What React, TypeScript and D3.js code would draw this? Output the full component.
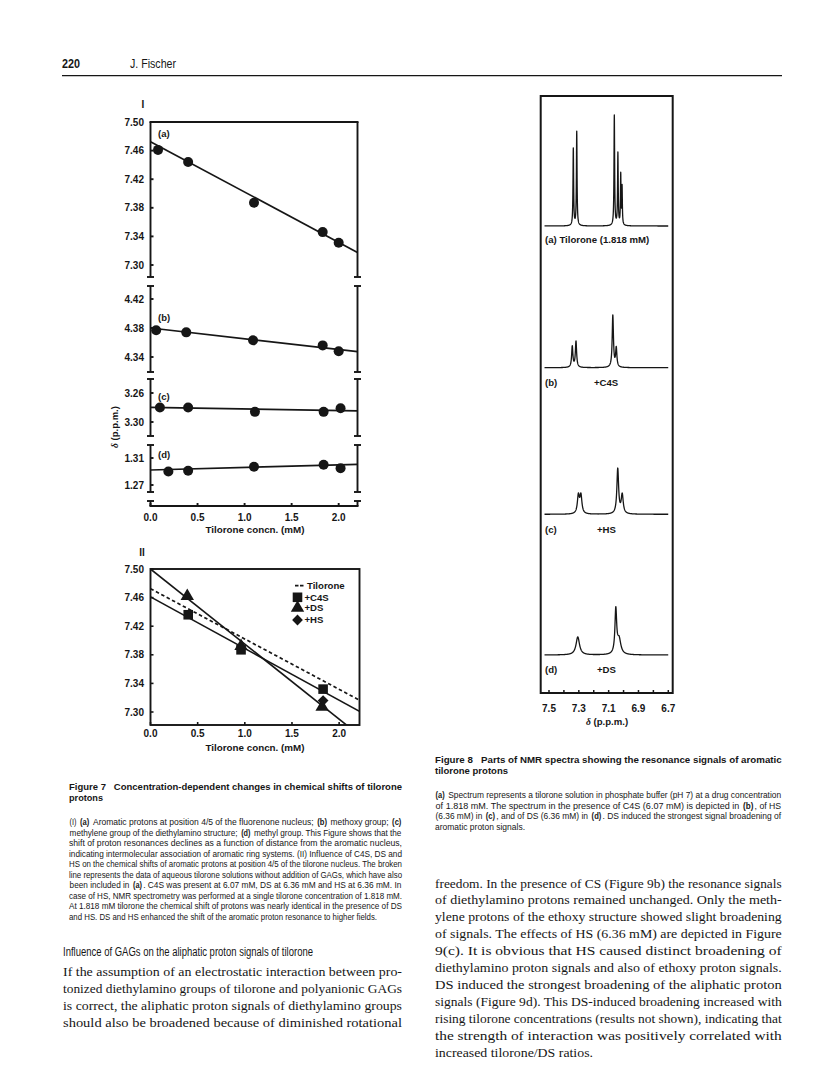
import React from "react";
import * as d3 from "d3";

const SANS = "Liberation Sans, Arial, sans-serif";
const SERIF = "Liberation Serif, Times New Roman, serif";
const INK = "#161616";

// Figure 7 (I): chemical shift (p.p.m.) vs tilorone concn. (mM)
const concA = [0.08, 0.4, 1.1, 1.83, 2.0];
const shiftA = [7.461, 7.444, 7.387, 7.346, 7.331];
const concB = [0.06, 0.38, 1.09, 1.83, 2.0];
const shiftB = [4.377, 4.374, 4.363, 4.356, 4.348];
const concC = [0.1, 0.4, 1.11, 1.84, 2.02];
const shiftC = [3.28, 3.28, 3.286, 3.286, 3.281];
const concD = [0.19, 0.4, 1.1, 1.84, 2.02];
const shiftD = [1.29, 1.291, 1.297, 1.3, 1.295];
// fitted lines: [intercept, slope]
const fitA = [7.4725, -0.0704];
const fitB = [4.38, -0.0148];
const fitC = [3.2797, 0.0023];
const fitD = [1.2922, 0.0038];
const ticksA = [7.5, 7.46, 7.42, 7.38, 7.34, 7.3];
const ticksB = [4.42, 4.38, 4.34];
const ticksC = [3.26, 3.3];
const ticksD = [1.31, 1.27];
const concTicks = [0, 0.5, 1.0, 1.5, 2.0];

// Figure 7 (II)
const c4sConc = [0.4, 0.96, 1.83];
const c4sShift = [7.436, 7.387, 7.332];
const dsConc = [0.39, 0.96, 1.82];
const dsShift = [7.462, 7.392, 7.307];
const hsConc = [1.83];
const hsShift = [7.316];
const tiloroneFit = [7.4725, -0.0704];
const c4sFit = [7.461, -0.0723];
const dsHsFit = [7.5, -0.105];
const legendLabels = ["Tilorone", "+C4S", "+DS", "+HS"];

// Figure 8: NMR peaks [ppm, intensity, half-width ppm]
const peaksA = [[7.337, 77, 0.0025], [7.314, 94, 0.0025], [7.062, 110, 0.0025], [7.038, 72, 0.0025], [7.019, 50, 0.0022], [7.01, 38, 0.0022]];
const peaksB = [[7.344, 21, 0.005], [7.319, 26, 0.005], [7.072, 52, 0.005], [7.049, 19, 0.005]];
const peaksC = [[7.303, 18, 0.008], [7.286, 18, 0.008], [7.039, 45, 0.007], [7.009, 19, 0.008]];
const peaksD = [[7.307, 18, 0.014], [7.052, 44, 0.007], [7.03, 15, 0.014]];
const ppmTicks = [7.5, 7.4, 7.3, 7.2, 7.1, 7.0, 6.9, 6.8, 6.7];
const ppmLabels = [7.5, 7.3, 7.1, 6.9, 6.7];
const specSpan = [7.53, 6.7];

// page text
const fig7Title = ["Figure 7\u00a0\u00a0\u00a0Concentration-dependent changes in chemical shifts of tilorone", "protons"];
const fig7Caption = [
  "(I) **(a)** Aromatic protons at position 4/5 of the fluorenone nucleus; **(b)** methoxy group; **(c)**",
  "methylene group of the diethylamino structure; **(d)** methyl group. This Figure shows that the",
  "shift of proton resonances declines as a function of distance from the aromatic nucleus,",
  "indicating intermolecular association of aromatic ring systems. (II) Influence of C4S, DS and",
  "HS on the chemical shifts of aromatic protons at position 4/5 of the tilorone nucleus. The broken",
  "line represents the data of aqueous tilorone solutions without addition of GAGs, which have also",
  "been included in **(a)**. C4S was present at 6.07 mM, DS at 6.36 mM and HS at 6.36 mM. In",
  "case of HS, NMR spectrometry was performed at a single tilorone concentration of 1.818 mM.",
  "At 1.818 mM tilorone the chemical shift of protons was nearly identical in the presence of DS",
  "and HS. DS and HS enhanced the shift of the aromatic proton resonance to higher fields.",
];
const heading = "Influence of GAGs on the aliphatic proton signals of tilorone";
const leftBody = [
  "If the assumption of an electrostatic interaction between pro-",
  "tonized diethylamino groups of tilorone and polyanionic GAGs",
  "is correct, the aliphatic proton signals of diethylamino groups",
  "should also be broadened because of diminished rotational",
];
const fig8Title = ["Figure 8\u00a0\u00a0\u00a0Parts of NMR spectra showing the resonance signals of aromatic", "tilorone protons"];
const fig8Caption = [
  "**(a)** Spectrum represents a tilorone solution in phosphate buffer (pH 7) at a drug concentration",
  "of 1.818 mM. The spectrum in the presence of C4S (6.07 mM) is depicted in **(b)**, of HS",
  "(6.36 mM) in **(c)**, and of DS (6.36 mM) in **(d)**. DS induced the strongest signal broadening of",
  "aromatic proton signals.",
];
const rightBody = [
  "freedom. In the presence of CS (Figure 9b) the resonance signals",
  "of diethylamino protons remained unchanged. Only the meth-",
  "ylene protons of the ethoxy structure showed slight broadening",
  "of signals. The effects of HS (6.36 mM) are depicted in Figure",
  "9(c). It is obvious that HS caused distinct broadening of",
  "diethylamino proton signals and also of ethoxy proton signals.",
  "DS induced the strongest broadening of the aliphatic proton",
  "signals (Figure 9d). This DS-induced broadening increased with",
  "rising tilorone concentrations (results not shown), indicating that",
  "the strength of interaction was positively correlated with",
  "increased tilorone/DS ratios.",
];

let measureCtx = null;
const measure = (s, font) => {
  if (!measureCtx) measureCtx = document.createElement("canvas").getContext("2d");
  measureCtx.font = font;
  return measureCtx.measureText(s).width;
};

// split "**x**" marked bold parts into separate segments
const segments = (s) =>
  s.split(/(\*\*[^*]+\*\*)/).filter(Boolean).map((p) =>
    p.startsWith("**") ? { t: p.slice(2, -2), bold: true } : { t: p, bold: false }
  );

// one justified line, each bold/normal run placed as its own <text>
const JLine = ({ text, x, y, width, size, family, weight }) => {
  const segs = segments(text).map((s) => {
    const font = `${s.bold ? "bold" : weight} ${size}px ${family}`;
    const lead = s.t.length - s.t.trimStart().length;
    const trail = s.t.length - s.t.trimEnd().length;
    return {
      ...s,
      trimmed: s.t.trim(),
      w: measure(s.t, font),
      lw: measure(" ".repeat(lead), font),
      tw: measure(" ".repeat(trail), font),
    };
  });
  const multi = segs.length > 1;
  const k = width / d3.sum(segs, (s) => s.w);
  let cx = x;
  return (
    <>
      {segs.map((s, i) => {
        const sx = cx + s.lw * k;
        const len = (s.w - s.lw - s.tw) * k;
        cx += s.w * k;
        const pad = multi ? 0.6 : 0;
        return (
          <text
            key={i}
            x={sx + pad}
            y={y}
            fontSize={s.bold && multi ? size * 0.96 : size}
            fontFamily={family}
            fontWeight={s.bold ? "bold" : weight}
            textLength={len - 2 * pad}
            lengthAdjust="spacingAndGlyphs"
          >
            {s.trimmed}
          </text>
        );
      })}
    </>
  );
};

const TextBlock = ({ lines, x, y0, step, width, lastWidth, size, family, weight = "normal" }) => (
  <g fill={INK}>
    {lines.map((ln, i) => (
      <JLine
        key={i}
        text={ln}
        x={x}
        y={y0 + i * step}
        width={i === lines.length - 1 ? lastWidth : width}
        size={size}
        family={family}
        weight={weight}
      />
    ))}
  </g>
);

const fmt2 = d3.format(".2f");
const fmt1 = d3.format(".1f");

const Cap = ({ x, y }) => <line x1={x - 3.5} x2={x + 3.5} y1={y} y2={y} />;

const PanelI = () => {
  const x = d3.scaleLinear().domain([0, 2.2]).range([150.5, 357.5]);
  const subs = [
    { tag: "(a)", conc: concA, shift: shiftA, fit: fitA, ticks: ticksA, ref: [7.5, 7.3], px: [122, 265], cap: [122, 277], tagY: 134, top: true },
    { tag: "(b)", conc: concB, shift: shiftB, fit: fitB, ticks: ticksB, ref: [4.42, 4.34], px: [299, 357], cap: [286, 372], tagY: 318 },
    { tag: "(c)", conc: concC, shift: shiftC, fit: fitC, ticks: ticksC, ref: [3.26, 3.3], px: [393, 422], cap: [379, 436], tagY: 397 },
    { tag: "(d)", conc: concD, shift: shiftD, fit: fitD, ticks: ticksD, ref: [1.31, 1.27], px: [458, 485], cap: [445, 492], tagY: 455 },
  ];
  const [x0, x1] = x.range();
  const axisY = 506;
  return (
    <g>
      <text x={143} y={108} fontFamily={SANS} fontWeight="bold" fontSize={10} textAnchor="middle" fill={INK}>I</text>
      {subs.map((s) => {
        const y = d3.scaleLinear().domain(s.ref).range(s.px);
        const line = d3.line().x((d) => x(d[0])).y((d) => y(d[1]));
        const fitPts = [[0, s.fit[0]], [2.2, s.fit[0] + 2.2 * s.fit[1]]];
        return (
          <g key={s.tag}>
            <g stroke={INK} strokeWidth={1.9} fill="none">
              <line x1={x0} x2={x0} y1={s.cap[0]} y2={s.cap[1]} />
              <line x1={x1} x2={x1} y1={s.cap[0]} y2={s.cap[1]} />
              {s.top ? <line x1={x0 - 1} x2={x1 + 1} y1={s.cap[0]} y2={s.cap[0]} /> : [<Cap key="l" x={x0} y={s.cap[0]} />, <Cap key="r" x={x1} y={s.cap[0]} />]}
              <Cap x={x0} y={s.cap[1]} />
              <Cap x={x1} y={s.cap[1]} />
              {s.ticks.map((t) => (
                <line key={t} x1={x0} x2={x0 + 3} y1={y(t)} y2={y(t)} />
              ))}
            </g>
            <path d={line(fitPts)} stroke={INK} strokeWidth={1.7} fill="none" />
            {s.conc.map((c, i) => (
              <circle key={i} cx={x(c)} cy={y(s.shift[i])} r={5} fill={INK} />
            ))}
            {s.ticks.map((t) => (
              <text key={t} x={144} y={y(t)} dy="0.35em" textAnchor="end" fontFamily={SANS} fontWeight="bold" fontSize={10} fill={INK}>{fmt2(t)}</text>
            ))}
            <text x={158} y={s.tagY} dy="0.35em" fontFamily={SANS} fontWeight="bold" fontSize={9.5} fill={INK}>{s.tag}</text>
          </g>
        );
      })}
      <g stroke={INK} strokeWidth={1.9} fill="none">
        <line x1={x0 - 1} x2={x1 + 1} y1={axisY} y2={axisY} />
        <line x1={x0} x2={x0} y1={axisY - 5} y2={axisY} />
        <line x1={x1} x2={x1} y1={axisY - 5} y2={axisY} />
        <Cap x={x0} y={axisY - 5} />
        <Cap x={x1} y={axisY - 5} />
        {concTicks.map((t) => (
          <line key={t} x1={x(t)} x2={x(t)} y1={axisY} y2={axisY - 3} />
        ))}
      </g>
      {concTicks.map((t) => (
        <text key={t} x={x(t)} y={517} dy="0.35em" textAnchor="middle" fontFamily={SANS} fontWeight="bold" fontSize={10} fill={INK}>{fmt1(t)}</text>
      ))}
      <text x={255} y={529.5} dy="0.35em" textAnchor="middle" fontFamily={SANS} fontWeight="bold" fontSize={9.8} fill={INK}>Tilorone concn. (mM)</text>
      <text transform="translate(115,427) rotate(-90)" textAnchor="middle" dy="0.35em" fontFamily={SANS} fontWeight="bold" fontSize={9.5} fill={INK}>
        <tspan fontFamily={SERIF} fontStyle="italic">δ</tspan> (p.p.m.)
      </text>
    </g>
  );
};

const PanelII = () => {
  const x = d3.scaleLinear().domain([0, 2.2]).range([150.5, 358]);
  const y = d3.scaleLinear().domain([7.5, 7.3]).range([569, 712]);
  const frame = { l: 150.5, r: 359.5, t: 569, b: 725 };
  const line = d3.line().x((d) => x(d[0])).y((d) => y(d[1]));
  const fitPath = (f) => line([[0, f[0]], [2.3, f[0] + 2.3 * f[1]]]);
  const sq = d3.symbol(d3.symbolSquare, 92)();
  const tri = d3.symbol(d3.symbolTriangle, 78)();
  const dia = d3.symbol(d3.symbolSquare, 58)();
  const legY = [585.7, 597.3, 608, 620];
  return (
    <g>
      <text x={142} y={556} textAnchor="middle" fontFamily={SANS} fontWeight="bold" fontSize={10} fill={INK}>II</text>
      <clipPath id="clipII">
        <rect x={frame.l} y={frame.t} width={frame.r - frame.l} height={frame.b - frame.t} />
      </clipPath>
      <g clipPath="url(#clipII)" fill="none" stroke={INK}>
        <path d={fitPath(tiloroneFit)} strokeWidth={1.7} strokeDasharray="3.5,2.6" />
        <path d={fitPath(c4sFit)} strokeWidth={1.6} />
        <path d={fitPath(dsHsFit)} strokeWidth={1.6} />
      </g>
      <rect x={frame.l} y={frame.t} width={frame.r - frame.l} height={frame.b - frame.t} fill="none" stroke={INK} strokeWidth={1.9} />
      <g stroke={INK} strokeWidth={1.6}>
        {ticksA.map((t) => (
          <line key={t} x1={frame.l} x2={frame.l + 3} y1={y(t)} y2={y(t)} />
        ))}
        {concTicks.map((t) => (
          <line key={t} x1={x(t)} x2={x(t)} y1={frame.b} y2={frame.b - 3} />
        ))}
      </g>
      {c4sConc.map((c, i) => (
        <path key={"s" + i} d={sq} transform={`translate(${x(c)},${y(c4sShift[i])})`} fill={INK} />
      ))}
      {dsConc.map((c, i) => (
        <path key={"t" + i} d={tri} transform={`translate(${x(c)},${y(dsShift[i])})`} fill={INK} />
      ))}
      {hsConc.map((c, i) => (
        <path key={"d" + i} d={dia} transform={`translate(${x(c)},${y(hsShift[i])}) rotate(45)`} fill={INK} />
      ))}
      {ticksA.map((t) => (
        <text key={t} x={144} y={y(t)} dy="0.35em" textAnchor="end" fontFamily={SANS} fontWeight="bold" fontSize={10} fill={INK}>{fmt2(t)}</text>
      ))}
      {concTicks.map((t) => (
        <text key={t} x={x(t)} y={733.5} dy="0.35em" textAnchor="middle" fontFamily={SANS} fontWeight="bold" fontSize={10} fill={INK}>{fmt1(t)}</text>
      ))}
      <text x={255} y={748} dy="0.35em" textAnchor="middle" fontFamily={SANS} fontWeight="bold" fontSize={9.8} fill={INK}>Tilorone concn. (mM)</text>
      {/* legend */}
      <line x1={295} x2={303.5} y1={legY[0]} y2={legY[0]} stroke={INK} strokeWidth={1.7} strokeDasharray="3.5,1.5" />
      <path d={sq} transform={`translate(297.5,${legY[1]})`} fill={INK} />
      <path d={tri} transform={`translate(297.5,${legY[2]})`} fill={INK} />
      <path d={dia} transform={`translate(297.5,${legY[3]}) rotate(45)`} fill={INK} />
      {legendLabels.map((l, i) => (
        <text key={l} x={i === 0 ? 307 : 304.5} y={legY[i]} dy="0.35em" fontFamily={SANS} fontWeight="bold" fontSize={9.6} fill={INK}>{l}</text>
      ))}
    </g>
  );
};

const lorentz = (peaks, d) => d3.sum(peaks, (p) => (p[1] * p[2] * p[2]) / ((d - p[0]) ** 2 + p[2] * p[2]));

const Figure8 = () => {
  const x = d3.scaleLinear().domain([7.5, 6.7]).range([549, 668.3]);
  const grid = d3.range(specSpan[0], specSpan[1], -0.0005);
  const spectra = [
    { peaks: peaksA, base: 226, tag: "(a) Tilorone (1.818 mM)", extra: "", labY: 240, exX: 0 },
    { peaks: peaksB, base: 367.7, tag: "(b)", extra: "+C4S", labY: 383, exX: 594 },
    { peaks: peaksC, base: 514.3, tag: "(c)", extra: "+HS", labY: 530, exX: 597 },
    { peaks: peaksD, base: 655, tag: "(d)", extra: "+DS", labY: 670, exX: 597 },
  ];
  const frame = { l: 540.7, r: 672.7, t: 96, b: 693 };
  return (
    <g>
      <rect x={frame.l} y={frame.t} width={frame.r - frame.l} height={frame.b - frame.t} fill="none" stroke={INK} strokeWidth={2} />
      {spectra.map((s, k) => {
        const y = d3.scaleLinear().domain([0, 100]).range([s.base, s.base - 100]);
        const line = d3.line().x((d) => x(d)).y((d) => y(lorentz(s.peaks, d)));
        return (
          <g key={k}>
            <path d={line(grid)} fill="none" stroke={INK} strokeWidth={1.3} strokeLinejoin="round" />
            <text x={545} y={s.labY} dy="0.35em" fontFamily={SANS} fontWeight="bold" fontSize={9.6} fill={INK}>{s.tag}</text>
            {s.extra && (
              <text x={s.exX} y={s.labY} dy="0.35em" fontFamily={SANS} fontWeight="bold" fontSize={9.6} fill={INK}>{s.extra}</text>
            )}
          </g>
        );
      })}
      <g stroke={INK} strokeWidth={1.5}>
        {ppmTicks.map((t) => (
          <line key={t} x1={x(t)} x2={x(t)} y1={frame.b} y2={frame.b - 3} />
        ))}
      </g>
      {ppmLabels.map((t) => (
        <text key={t} x={x(t)} y={708} dy="0.35em" textAnchor="middle" fontFamily={SANS} fontWeight="bold" fontSize={10} fill={INK}>{fmt1(t)}</text>
      ))}
      <text x={607} y={722} dy="0.35em" textAnchor="middle" fontFamily={SANS} fontWeight="bold" fontSize={9.6} fill={INK}>
        <tspan fontFamily={SERIF} fontStyle="italic">δ</tspan> (p.p.m.)
      </text>
    </g>
  );
};

export default function App() {
  return (
    <svg width={816} height={1089} style={{ position: "absolute", left: 0, top: 0, background: "#fff", display: "block" }}>
      {/* running head */}
      <text x={62} y={67.5} fontFamily={SANS} fontWeight="bold" fontSize={12.5} textLength={18} lengthAdjust="spacingAndGlyphs" fill={INK}>220</text>
      <text x={130} y={67.5} fontFamily={SANS} fontSize={12.5} textLength={46} lengthAdjust="spacingAndGlyphs" fill={INK}>J. Fischer</text>
      <line x1={62} x2={782} y1={75.7} y2={75.7} stroke={INK} strokeWidth={1.3} />

      <PanelI />
      <PanelII />
      <Figure8 />

      <TextBlock lines={fig7Title} x={69} y0={790} step={11} width={333} lastWidth={34} size={9.8} family={SANS} weight="bold" />
      <TextBlock lines={fig7Caption} x={69} y0={825} step={10.5} width={333} lastWidth={308} size={8.7} family={SANS} />
      <TextBlock lines={[heading]} x={63} y0={956.3} step={0} width={250} lastWidth={250} size={12.5} family={SANS} />
      <TextBlock lines={leftBody} x={63} y0={975.5} step={17} width={339} lastWidth={339} size={13.5} family={SERIF} />

      <TextBlock lines={fig8Title} x={435} y0={763.3} step={11} width={346.7} lastWidth={73} size={9.8} family={SANS} weight="bold" />
      <TextBlock lines={fig8Caption} x={435} y0={798.3} step={10.4} width={346.7} lastWidth={90} size={8.7} family={SANS} />
      <TextBlock lines={rightBody} x={435} y0={887.5} step={16.9} width={346.7} lastWidth={158} size={13.5} family={SERIF} />
    </svg>
  );
}
